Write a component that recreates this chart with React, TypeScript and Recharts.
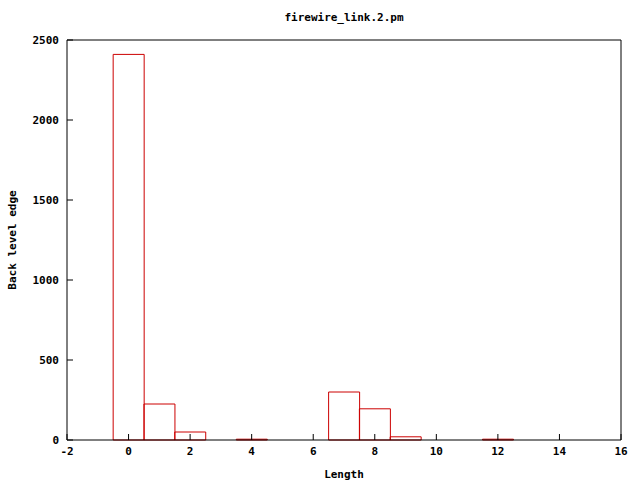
import { ComposedChart, Bar, XAxis, YAxis } from 'recharts';

// histogram bins (centre of each box) and counts
const lengths: number[] = [0, 1, 2, 4, 7, 8, 9, 12];
const counts: number[] = [2410, 225, 50, 5, 300, 195, 20, 5];

const xTicks: number[] = [-2, 0, 2, 4, 6, 8, 10, 12, 14, 16];
const yTicks: number[] = [0, 500, 1000, 1500, 2000, 2500];

const data = lengths.map((l, i) => ({ length: l, count: counts[i] }));

const font = '"DejaVu Sans Mono", monospace';
const tickStyle = { fontFamily: font, fontSize: 11, fontWeight: 'bold', fill: '#000' };

const App = () => {
  return (
    <div style={{ position: 'absolute', left: 0, top: 0, width: 640, height: 480, background: '#fff' }}>
      <div
        style={{
          position: 'absolute',
          top: 11,
          left: 67,
          width: 554,
          textAlign: 'center',
          fontFamily: font,
          fontSize: 11,
          fontWeight: 'bold',
        }}
      >
        firewire_link.2.pm
      </div>
      <ComposedChart
        width={640}
        height={480}
        data={data}
        margin={{ top: 39, right: 18, bottom: 0, left: 0 }}
        barCategoryGap={0}
        barGap={0}
      >
        <XAxis
          xAxisId="bottom"
          dataKey="length"
          type="number"
          domain={[-2, 16]}
          ticks={xTicks}
          interval={0}
          height={40}
          stroke="#000"
          tickSize={-6}
          tickMargin={13}
          tick={tickStyle}
          label={{ value: 'Length', position: 'insideBottom', offset: 2, style: { ...tickStyle } }}
        />
        <XAxis
          xAxisId="top"
          dataKey="length"
          type="number"
          orientation="top"
          domain={[-2, 16]}
          ticks={xTicks}
          interval={0}
          height={1}
          stroke="#000"
          tickSize={-6}
          tick={false}
        />
        <YAxis
          yAxisId="left"
          type="number"
          domain={[0, 2500]}
          ticks={yTicks}
          interval={0}
          width={67}
          stroke="#000"
          tickSize={-6}
          tickMargin={14}
          tick={tickStyle}
          label={{
            value: 'Back level edge',
            angle: -90,
            position: 'insideLeft',
            offset: 12,
            style: { ...tickStyle, textAnchor: 'middle' },
          }}
        />
        <YAxis
          yAxisId="right"
          orientation="right"
          type="number"
          domain={[0, 2500]}
          ticks={yTicks}
          interval={0}
          width={1}
          stroke="#000"
          tickSize={-6}
          tick={false}
        />
        <Bar
          xAxisId="bottom"
          yAxisId="left"
          dataKey="count"
          fill="none"
          stroke="#cc0000"
          strokeWidth={1}
          isAnimationActive={false}
        />
      </ComposedChart>
    </div>
  );
};

export default App;
